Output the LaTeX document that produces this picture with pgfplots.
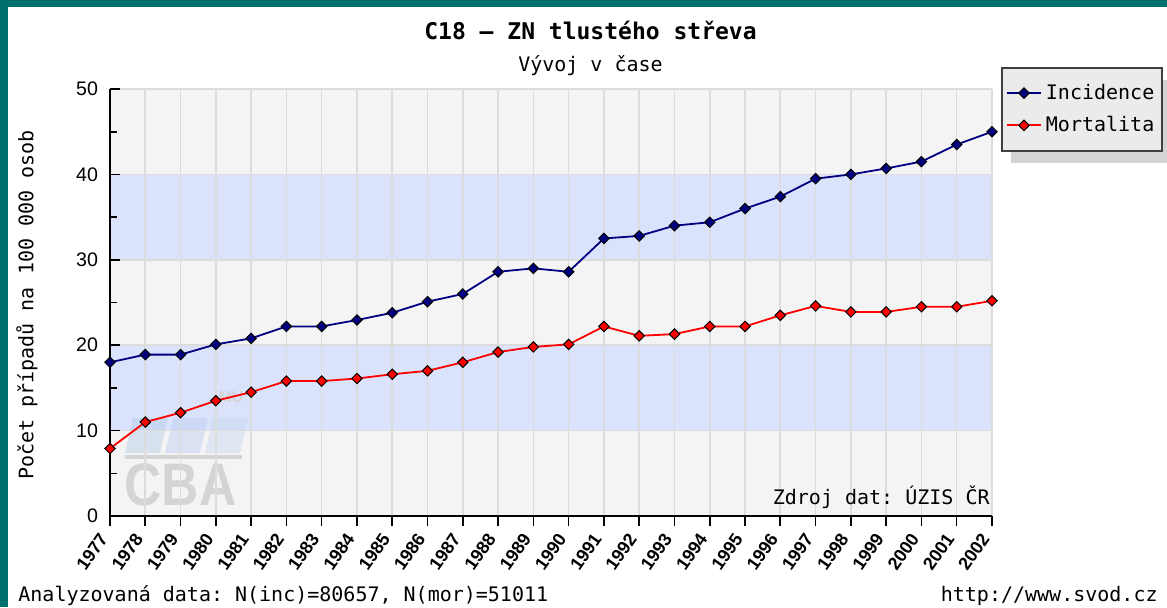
\documentclass[border=0pt]{standalone}
\usepackage{fontspec}
\setmainfont{DejaVu Sans Mono}
\newfontfamily\tickfont{Liberation Sans}
\usepackage{pgfplots}
\pgfplotsset{compat=1.18}
\definecolor{teal0}{HTML}{00706C}
\definecolor{bandgray}{HTML}{F4F4F4}
\definecolor{bandblue}{HTML}{DAE3FB}
\definecolor{gridc}{HTML}{DCDCDC}
\definecolor{incc}{HTML}{000080}
\definecolor{morc}{HTML}{FF0000}
\definecolor{legfill}{HTML}{EBEBEB}
\definecolor{legshadow}{HTML}{D4D4D4}
\definecolor{wm}{HTML}{D4D4D4}
\definecolor{wma}{HTML}{B4CCE8}
\definecolor{wmb}{HTML}{BCCCF0}
\definecolor{wmc}{HTML}{C8D6EE}

\pgfdeclareplotmark{sqdiamond*}{%
 \pgfpathmoveto{\pgfqpoint{0pt}{\pgfplotmarksize}}%
 \pgfpathlineto{\pgfqpoint{\pgfplotmarksize}{0pt}}%
 \pgfpathlineto{\pgfqpoint{0pt}{-\pgfplotmarksize}}%
 \pgfpathlineto{\pgfqpoint{-\pgfplotmarksize}{0pt}}%
 \pgfpathclose
 \pgfusepathqfillstroke}

\pgfplotstableread{
year inc mor
1977 18.0 7.9
1978 18.9 11.0
1979 18.9 12.1
1980 20.1 13.5
1981 20.8 14.5
1982 22.2 15.8
1983 22.2 15.8
1984 22.95 16.1
1985 23.8 16.6
1986 25.1 17.0
1987 26.0 18.0
1988 28.6 19.2
1989 29.0 19.8
1990 28.6 20.1
1991 32.5 22.2
1992 32.8 21.1
1993 34.0 21.3
1994 34.4 22.2
1995 36.0 22.2
1996 37.4 23.5
1997 39.5 24.6
1998 40.0 23.9
1999 40.7 23.9
2000 41.5 24.5
2001 43.5 24.5
2002 45.0 25.2
}\datatable

\begin{document}
\frenchspacing
\begin{tikzpicture}
\begin{scope}[x=0.5pt,y=-0.5pt]
\path[use as bounding box] (0,0) rectangle (1167,607);
\end{scope}
\begin{axis}[
  at={(55pt,-258pt)}, anchor=south west,
  width=441pt, height=213.5pt, scale only axis,
  set layers,
  xmin=1977, xmax=2002, ymin=0, ymax=50,
  axis x line=bottom, axis y line=left,
  axis line style={black, line width=1pt, -},
  xtick={1977,...,2002}, ytick={0,10,...,50}, minor ytick={5,15,...,45},
  xtick align=outside, ytick align=inside,
  major tick length=5pt, minor tick length=3.5pt,
  tick style={black, line width=0.8pt},
  grid=major, grid style={gridc, line width=0.8pt},
  /pgf/number format/assume math mode=true,
  /pgf/number format/1000 sep={},
  yticklabel style={font=\tickfont\fontsize{9.8}{11}\selectfont, xshift=-2.5pt},
  xticklabel style={font=\tickfont\bfseries\fontsize{9}{10}\selectfont, rotate=55, anchor=east, inner sep=5.5pt},
  legend style={at={(axis description cs:1,1)}, anchor=north west, xshift=4.5pt, yshift=11pt,
    draw=black!75, line width=1pt, fill=legfill,
    font=\fontsize{10}{12}\selectfont, inner xsep=2pt, inner ysep=6pt, row sep=3pt},
  legend cell align=left,
  clip=false,
]
\begin{pgfonlayer}{axis background}
\begin{scope}[shift={(axis cs:1977,0)}, x=0.5pt, y=-0.5pt]
\fill[teal0] (-110,-516) rectangle (1057,91);
\fill[white] (-102,-509) rectangle (1057,91);
\fill[legshadow] (901,-436) rectangle (1057,-353);
\end{scope}
\fill[bandgray] (axis cs:1977,0) rectangle (axis cs:2002,10);
\fill[bandblue] (axis cs:1977,10) rectangle (axis cs:2002,20);
\fill[bandgray] (axis cs:1977,20) rectangle (axis cs:2002,30);
\fill[bandblue] (axis cs:1977,30) rectangle (axis cs:2002,40);
\fill[bandgray] (axis cs:1977,40) rectangle (axis cs:2002,50);
\begin{scope}[shift={(axis cs:1977,0)}, x=0.5pt, y=-0.5pt]
\fill[wma, opacity=0.45] (15,-63) -- (50,-63) -- (58,-98) -- (23,-98) -- cycle;
\fill[wmb, opacity=0.45] (55,-63) -- (90,-63) -- (98,-98) -- (63,-98) -- cycle;
\fill[wmc, opacity=0.45] (95,-63) -- (130,-63) -- (138,-98) -- (103,-98) -- cycle;
\fill[wm] (15,-61) rectangle (132,-57);
\node[anchor=base, inner sep=0, text=wm, font=\tickfont\fontsize{30}{30}\selectfont\bfseries, xscale=0.86] at (70.5,-11) {CBA};
\node[inner sep=0, text=wm, font=\tickfont\fontsize{8}{8}\selectfont\bfseries] at (121,-119) {MU};
\end{scope}
\end{pgfonlayer}
\addplot[incc, line width=0.9pt, mark=sqdiamond*, mark size=2.6pt,
  mark options={draw=black, fill=incc, line width=0.5pt}] table[x=year, y=inc] {\datatable};
\addlegendentry{Incidence}
\addplot[morc, line width=0.9pt, mark=sqdiamond*, mark size=2.6pt,
  mark options={draw=black, fill=morc, line width=0.5pt}] table[x=year, y=mor] {\datatable};
\addlegendentry{Mortalita}
\node[anchor=south east, inner sep=1pt, font=\fontsize{10}{12}\selectfont] at (axis cs:2002,0.6) {Zdroj dat: ÚZIS ČR};
\end{axis}
\begin{scope}[x=0.5pt,y=-0.5pt]
\node[font=\fontsize{11.5}{13}\selectfont\bfseries] at (590.5,30) {C18 \textendash{} ZN tlustého střeva};
\node[font=\fontsize{10}{12}\selectfont] at (590.5,66) {Vývoj v čase};
\node[rotate=90,font=\fontsize{10}{12}\selectfont] at (27,305) {Počet případů na 100 000 osob};
\node[anchor=west,inner sep=0,font=\fontsize{10}{12}\selectfont] at (18,596) {Analyzovaná data: N(inc)=80657, N(mor)=51011};
\node[anchor=east,inner sep=0,font=\fontsize{10}{12}\selectfont] at (1158,596) {http://www.svod.cz};
\end{scope}
\end{tikzpicture}
\end{document}
